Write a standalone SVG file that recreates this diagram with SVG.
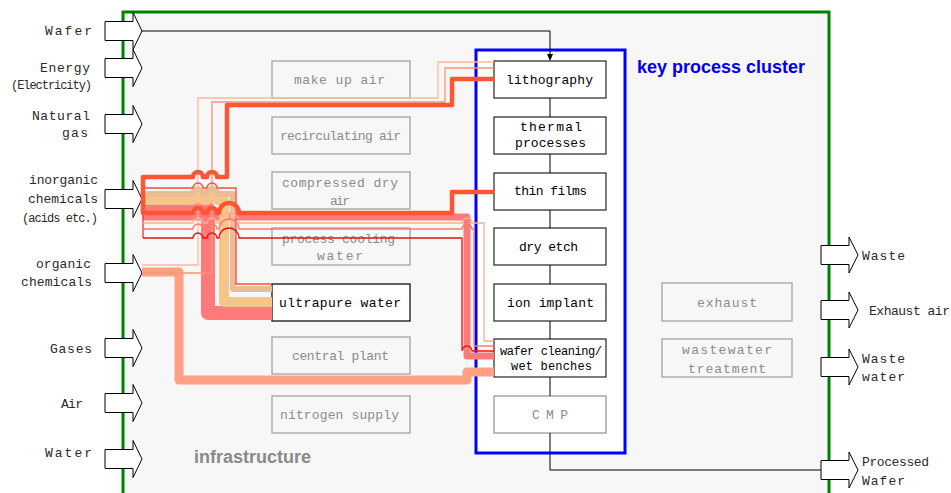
<svg xmlns="http://www.w3.org/2000/svg" width="951" height="493" viewBox="0 0 951 493">
<style>
text{font-family:"Liberation Mono","DejaVu Sans Mono",monospace;font-size:13px}
.lbl{fill:#2a2a2a}
.inf{fill:#8c8c8c}
.prc{fill:#000}
.ibox{fill:#f7f7f7;stroke:#a3a3a3;stroke-width:1.3}
.pbox{fill:#fff;stroke:#333;stroke-width:1.3}
.arr{fill:#fff;stroke:#000;stroke-width:1}
.pipe{fill:none;stroke-linejoin:round;stroke-linecap:butt}
.thin{fill:none;stroke-width:1.3}
.ln{fill:none;stroke:#000;stroke-width:1}
</style>
<rect id="frame" x="123" y="12" width="706" height="492" fill="#f7f7f7" stroke="#008000" stroke-width="3"/>
<text x="194" y="463" style="font-family:'Liberation Sans',Arial,sans-serif;font-size:18px;font-weight:bold;fill:#8a8a8a">infrastructure</text>
<g id="cluster">
<rect x="476" y="50" width="149" height="403" fill="#fff" stroke="#0000ff" stroke-width="3"/>
<text x="637" y="73" style="font-family:'Liberation Sans',Arial,sans-serif;font-size:18px;font-weight:bold;fill:#0000ee">key process cluster</text>
</g>
<g id="in-wafer"><path class="arr" d="M105,21.5H133V12.5L142,31L133,49.5V40.5H105Z"/><text class="lbl" x="45" y="35" textLength="47">Wafer</text></g>
<g id="in-energy"><path class="arr" d="M105,58.5H133V49.5L142,68L133,86.5V77.5H105Z"/><text class="lbl" x="40" y="72" textLength="50">Energy</text><text class="lbl" x="11" y="89" textLength="81" style="font-size:12px">(Electricity)</text></g>
<g id="in-gas"><path class="arr" d="M105,114.5H133V105.5L142,124L133,142.5V133.5H105Z"/><text class="lbl" x="32" y="120" textLength="58">Natural</text><text class="lbl" x="62" y="137" textLength="26">gas</text></g>
<g id="in-inorganic"><path class="arr" d="M105,189.5H133V180.5L142,199L133,217.5V208.5H105Z"/><text class="lbl" x="29" y="184" textLength="69">inorganic</text><text class="lbl" x="28" y="203" textLength="70">chemicals</text><text class="lbl" x="22" y="222" textLength="76" style="font-size:12px">(acids etc.)</text></g>
<g id="in-organic"><path class="arr" d="M105,263.5H133V254.5L142,273L133,291.5V282.5H105Z"/><text class="lbl" x="36" y="268" textLength="55">organic</text><text class="lbl" x="21" y="286" textLength="71">chemicals</text></g>
<g id="in-gases"><path class="arr" d="M105,338.5H133V329.5L142,348L133,366.5V357.5H105Z"/><text class="lbl" x="50" y="353" textLength="42">Gases</text></g>
<g id="in-air"><path class="arr" d="M105,393.5H133V384.5L142,403L133,421.5V412.5H105Z"/><text class="lbl" x="61" y="408" textLength="22">Air</text></g>
<g id="in-water"><path class="arr" d="M105,449.5H133V440.5L142,459L133,477.5V468.5H105Z"/><text class="lbl" x="45" y="457" textLength="47">Water</text></g>
<g id="out-waste"><path class="arr" d="M821,245.5H849V237L858,255L849,273V264.5H821Z"/><text class="lbl" x="862" y="260" textLength="43">Waste</text></g>
<g id="out-exhaust"><path class="arr" d="M821,300.5H849V292L858,310L849,328V319.5H821Z"/><text class="lbl" x="869" y="315" textLength="81">Exhaust air</text></g>
<g id="out-wastewater"><path class="arr" d="M821,357.5H849V349L858,367L849,385V376.5H821Z"/><text class="lbl" x="862" y="363" textLength="43">Waste</text><text class="lbl" x="862" y="381" textLength="43">water</text></g>
<g id="out-wafer"><path class="arr" d="M821,460.5H849V452L858,470L849,488V479.5H821Z"/><text class="lbl" x="862" y="466" textLength="67">Processed</text><text class="lbl" x="862" y="485" textLength="43">Wafer</text></g>
<g id="makeup"><rect class="ibox" x="272" y="61" width="138" height="37"/><text class="inf" x="294" y="84" textLength="91">make up air</text></g>
<g id="recirc"><rect class="ibox" x="272" y="117" width="138" height="37"/><text class="inf" x="280" y="140" textLength="121">recirculating air</text></g>
<g id="cda"><rect class="ibox" x="272" y="172" width="138" height="37"/><text class="inf" x="282" y="187" textLength="116">compressed dry</text><text class="inf" x="330" y="205" textLength="20">air</text></g>
<g id="pcw"><rect class="ibox" x="272" y="228" width="138" height="37"/><text class="inf" x="282" y="243" textLength="113">process cooling</text><text class="inf" x="317" y="260" textLength="46">water</text></g>
<g id="upw"><rect x="272" y="284" width="138" height="37" fill="#fff" stroke="#111" stroke-width="1.3"/><text class="prc" x="279" y="307" textLength="122">ultrapure water</text></g>
<g id="central"><rect class="ibox" x="272" y="337" width="138" height="37"/><text class="inf" x="292" y="360" textLength="97">central plant</text></g>
<g id="nitrogen"><rect class="ibox" x="272" y="396" width="138" height="37"/><text class="inf" x="280" y="419" textLength="119">nitrogen supply</text></g>
<g id="exhaust"><rect class="ibox" x="662" y="283" width="130" height="38"/><text class="inf" x="697" y="307" textLength="60">exhaust</text></g>
<g id="wwt"><rect class="ibox" x="662" y="339" width="130" height="38"/><text class="inf" x="682" y="354" textLength="90">wastewater</text><text class="inf" x="688" y="373" textLength="78">treatment</text></g>
<g id="litho"><rect class="pbox" x="494" y="61" width="112" height="37"/><text class="prc" x="506" y="84" textLength="87">lithography</text></g>
<g id="thermal"><rect class="pbox" x="494" y="117" width="112" height="37"/><text class="prc" x="520" y="131" textLength="62">thermal</text><text class="prc" x="515" y="147" textLength="71">processes</text></g>
<g id="thinfilms"><rect class="pbox" x="494" y="173" width="112" height="37"/><text class="prc" x="514" y="195" textLength="73">thin films</text></g>
<g id="dryetch"><rect class="pbox" x="494" y="228" width="112" height="37"/><text class="prc" x="519" y="251" textLength="59">dry etch</text></g>
<g id="implant"><rect class="pbox" x="494" y="284" width="112" height="37"/><text class="prc" x="507" y="307" textLength="87">ion implant</text></g>
<g id="wetbench"><rect class="pbox" x="494" y="339" width="112" height="38"/><text class="prc" x="500" y="355" textLength="102" style="font-size:12px">wafer cleaning/</text><text class="prc" x="511" y="370" textLength="81" style="font-size:12px">wet benches</text></g>
<g id="cmp"><rect x="494" y="396" width="112" height="37" fill="#fff" stroke="#999" stroke-width="1.3"/><text class="inf" x="532" y="419" textLength="36">CMP</text></g>
<g id="connectors">
<path class="ln" d="M142,31H550V55"/>
<polygon points="547,54 553,54 550,61" fill="#000"/>
<path class="ln" d="M550,98V117M550,154V173M550,210V228M550,265V284M550,321V339M550,377V396M550,433V470H821"/>
<path class="pipe" stroke="#ff7b7b" stroke-width="14" d="M143,209H208V313H272"/>
<path class="pipe" stroke="#ff7b7b" stroke-width="7" d="M143,217H467V356H494"/>
<path class="pipe" stroke="#ffa084" stroke-width="9" d="M142,272H179V380H467V372H494"/>
<path class="thin" stroke="#ffb89e" d="M142,265H198V98H438V62H494"/>
<path class="thin" stroke="#ff9474" d="M142,273H212V102H445V68H494"/>
<path class="pipe" stroke="#f7c58a" stroke-width="10" d="M143,200H193A5,5 0 0 1 203,200H207A5,5 0 0 1 217,200H224V302H272"/>
<path class="pipe" stroke="#ebbd96" stroke-width="6" d="M143,194H193A5,5 0 0 1 203,194H207A5,5 0 0 1 217,194H233V289H272"/>
<path class="thin" stroke="#ff4a3a" stroke-width="1" d="M143,188H193A5,5 0 0 1 203,188H207A5,5 0 0 1 217,188H236V284H272"/>
<path class="thin" stroke="#ee3030" stroke-width="1.2" d="M143,188V238"/>
<path class="thin" stroke="#ffb090" d="M143,223H193A5,5 0 0 1 203,223H207A5,5 0 0 1 217,223H219A10,10 0 0 1 239,223H462A5,5 0 0 1 472,223H484V341H494"/>
<path class="thin" stroke="#ff7a5e" d="M143,229H193A5,5 0 0 1 203,229H207A5,5 0 0 1 217,229H219A10,10 0 0 1 239,229H462A5,5 0 0 1 472,229H474V346H494"/>
<path class="thin" stroke="#e81010" stroke-width="1.1" d="M143,238H193A5,5 0 0 1 203,238H207A5,5 0 0 1 217,238H219A10,10 0 0 1 239,238H462V351A5,5 0 0 1 472,351H494"/>
<path class="pipe" stroke="#ff5533" stroke-width="4.5" d="M494,79H452V105H227V177H217A5,5 0 0 0 207,177H203A5,5 0 0 0 193,177H143V213H193A5,5 0 0 1 203,213H207A5,5 0 0 1 217,213H219A10,10 0 0 1 239,213H452V192H494"/>
</g>
</svg>
